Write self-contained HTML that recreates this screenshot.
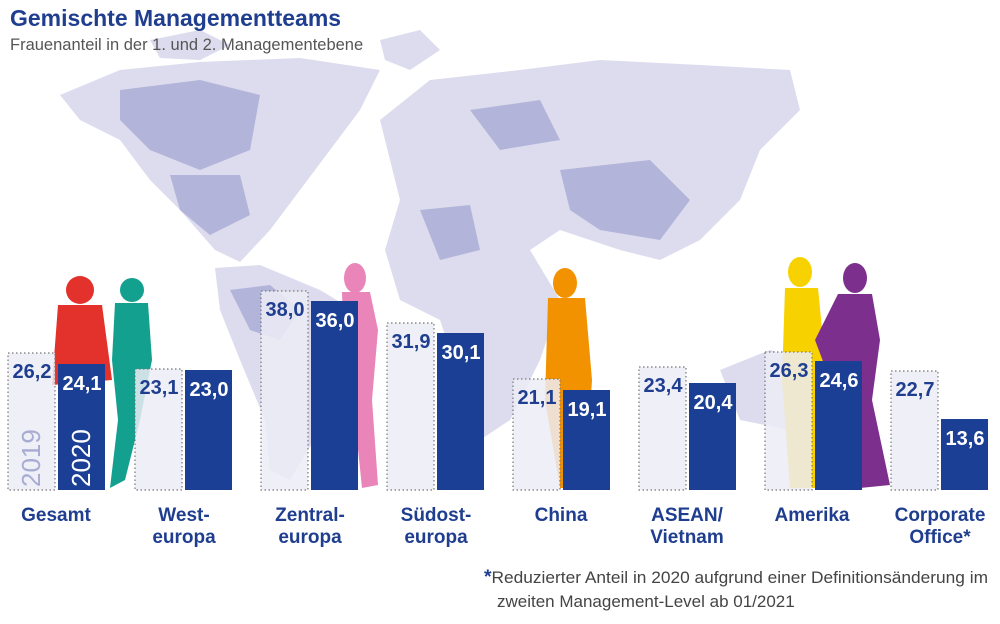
<!DOCTYPE html>
<html><head><meta charset="utf-8"><style>
body{margin:0;background:#fff;width:1000px;height:619px;overflow:hidden;font-family:"Liberation Sans",sans-serif}
</style></head><body>
<svg width="1000" height="619" viewBox="0 0 1000 619" xmlns="http://www.w3.org/2000/svg" font-family="Liberation Sans, sans-serif">
<!-- map -->
<g fill="#dcdcee">
<path d="M60,95 L120,70 L200,62 L300,58 L380,70 L360,110 L330,150 L300,190 L270,230 L240,262 L215,250 L180,210 L150,180 L120,140 L80,120 Z"/>
<path d="M215,268 L260,265 L320,290 L370,320 L350,380 L320,430 L290,480 L270,470 L265,420 L240,360 L220,310 Z"/>
<path d="M380,120 L430,80 L520,70 L600,60 L700,65 L790,70 L800,110 L760,150 L740,200 L700,240 L660,260 L620,250 L560,230 L530,250 L560,300 L540,360 L510,420 L480,440 L460,380 L440,320 L400,300 L385,250 L400,200 L390,160 Z"/>
<path d="M720,370 L770,350 L820,365 L830,410 L790,430 L740,420 Z"/>
<path d="M150,40 L200,30 L230,45 L200,60 L160,58 Z"/>
<path d="M380,40 L420,30 L440,50 L410,70 L385,60 Z"/>
</g>
<g fill="#b3b4d9">
<path d="M120,90 L200,80 L260,95 L250,150 L200,170 L150,150 L120,120 Z"/>
<path d="M170,175 L240,175 L250,215 L210,235 L180,210 Z"/>
<path d="M230,290 L270,285 L300,310 L280,340 L250,330 Z"/>
<path d="M560,170 L650,160 L690,200 L660,240 L600,230 L570,210 Z"/>
<path d="M420,210 L470,205 L480,250 L440,260 Z"/>
<path d="M470,110 L540,100 L560,140 L500,150 Z"/>
</g>
<!-- silhouettes -->
<g fill="#e3312b"><circle cx="80" cy="290" r="14"/><path d="M58,305 L102,305 L112,380 L52,385 Z"/></g>
<g fill="#13a08f"><circle cx="132" cy="290" r="12"/><path d="M115,303 L148,303 L152,360 L140,420 L125,480 L110,488 L118,420 L112,360 Z"/></g>
<g fill="#ea85b9"><ellipse cx="355" cy="278" rx="11" ry="15"/><path d="M342,292 L370,292 L378,330 L372,400 L378,485 L362,488 L355,420 L345,380 Z"/></g>
<g fill="#f39200"><ellipse cx="565" cy="283" rx="12" ry="15"/><path d="M548,298 L585,298 L592,380 L585,488 L560,488 L545,400 Z"/></g>
<g fill="#f7d200"><ellipse cx="800" cy="272" rx="12" ry="15"/><path d="M785,288 L818,288 L825,360 L815,488 L790,488 L782,380 Z"/></g>
<g fill="#7d2f8e"><ellipse cx="855" cy="278" rx="12" ry="15"/><path d="M838,294 L872,294 L880,340 L872,400 L890,485 L860,488 L845,420 L815,340 Z"/></g>
<!-- bars -->
<g font-weight="bold" font-size="20">
<g fill="#ececf6" fill-opacity="0.85" stroke="#777" stroke-width="1.2" stroke-dasharray="1.5,2.5">
<rect x="8" y="353" width="47" height="137"/><rect x="135" y="369" width="47" height="121"/>
<rect x="261" y="291" width="47" height="199"/><rect x="387" y="323" width="47" height="167"/>
<rect x="513" y="379" width="47" height="111"/><rect x="639" y="367" width="47" height="123"/>
<rect x="765" y="352" width="47" height="138"/><rect x="891" y="371" width="47" height="119"/>
</g>
<g fill="#1b3f95">
<rect x="58" y="364" width="47" height="126"/><rect x="185" y="370" width="47" height="120"/>
<rect x="311" y="301" width="47" height="189"/><rect x="437" y="333" width="47" height="157"/>
<rect x="563" y="390" width="47" height="100"/><rect x="689" y="383" width="47" height="107"/>
<rect x="815" y="361" width="47" height="129"/><rect x="941" y="419" width="47" height="71"/>
</g>
<g fill="#1f3e8f" text-anchor="middle">
<text x="32" y="378">26,2</text><text x="159" y="394">23,1</text><text x="285" y="316">38,0</text>
<text x="411" y="348">31,9</text><text x="537" y="404">21,1</text><text x="663" y="392">23,4</text>
<text x="789" y="377">26,3</text><text x="915" y="396">22,7</text>
</g>
<g fill="#fff" text-anchor="middle">
<text x="82" y="390">24,1</text><text x="209" y="396">23,0</text><text x="335" y="327">36,0</text>
<text x="461" y="359">30,1</text><text x="587" y="416">19,1</text><text x="713" y="409">20,4</text>
<text x="839" y="387">24,6</text><text x="965" y="445">13,6</text>
</g>
</g>
<text transform="translate(40,487) rotate(-90)" font-size="26" fill="#a8acd2">2019</text>
<text transform="translate(90,487) rotate(-90)" font-size="26" fill="#fff">2020</text>
<!-- category labels -->
<g fill="#1f3e8f" font-weight="bold" font-size="19" text-anchor="middle">
<text x="56" y="521">Gesamt</text>
<text x="184" y="521">West-</text><text x="184" y="543">europa</text>
<text x="310" y="521">Zentral-</text><text x="310" y="543">europa</text>
<text x="436" y="521">Südost-</text><text x="436" y="543">europa</text>
<text x="561" y="521">China</text>
<text x="687" y="521">ASEAN/</text><text x="687" y="543">Vietnam</text>
<text x="812" y="521">Amerika</text>
<text x="940" y="521">Corporate</text><text x="940" y="543">Office*</text>
</g>
<text x="484" y="583" font-size="17" fill="#444" textLength="504" lengthAdjust="spacingAndGlyphs"><tspan fill="#1f3e8f" font-weight="bold" font-size="19">*</tspan>Reduzierter Anteil in 2020 aufgrund einer Definitionsänderung im</text>
<text x="497" y="607" font-size="17" fill="#444">zweiten Management-Level ab 01/2021</text>
<text x="10" y="26" font-size="23" font-weight="bold" fill="#1f3e8f">Gemischte Managementteams</text>
<text x="10" y="50" font-size="16.5" fill="#555">Frauenanteil in der 1. und 2. Managementebene</text>
</svg>
</body></html>
